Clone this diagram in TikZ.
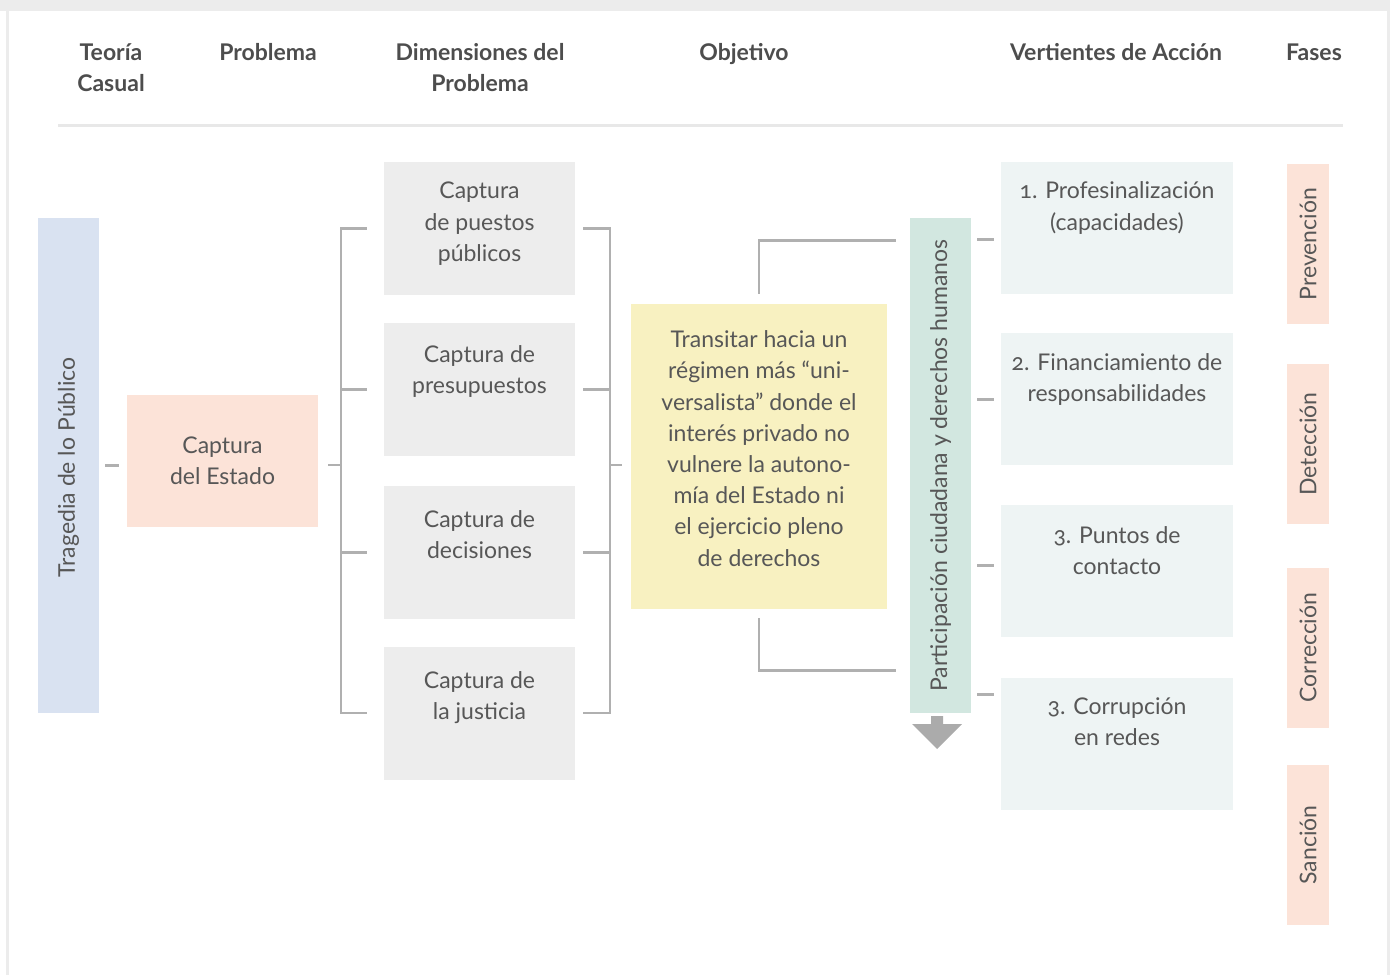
\documentclass[tikz,border=0pt]{standalone}
\usepackage{fontspec}
\setmainfont{Lato}[Numbers=OldStyle]
\usetikzlibrary{positioning}
\definecolor{txtgray}{HTML}{575757}
\definecolor{headgray}{HTML}{4D4D4D}
\definecolor{framegray}{HTML}{ECECEC}
\definecolor{rulegray}{HTML}{E8E8E8}
\definecolor{linkgray}{HTML}{B0B0B0}
\definecolor{arrowgray}{HTML}{ABABAB}
\definecolor{bluegray}{HTML}{D9E2F1}
\definecolor{peach}{HTML}{FCE3D8}
\definecolor{boxgray}{HTML}{EDEDED}
\definecolor{lightyellow}{HTML}{F8F1C1}
\definecolor{lightgreen}{HTML}{D2E7E0}
\definecolor{paleblue}{HTML}{EEF4F4}

\begin{document}
\begin{tikzpicture}[x=0.5pt,y=-0.5pt,
  every node/.style={text=txtgray,font=\fontsize{11.5}{15.6}\selectfont},
  head/.style={font=\fontsize{11.5}{15.6}\selectfont\bfseries,text=headgray,align=center,anchor=north,inner sep=0pt},
  box/.style={inner sep=0pt,minimum width=95.5pt,minimum height=66.5pt,fill=boxgray},
  bar/.style={box,minimum width=30.5pt,minimum height=247.5pt},
  vbox/.style={box,fill=paleblue,minimum width=116pt,minimum height=66pt},
  fase/.style={box,fill=peach,minimum width=21pt,minimum height=80pt},
  txt/.style={align=center,inner sep=0pt},
  link/.style={draw=linkgray,line width=1.2pt}]
\useasboundingbox (0,0) rectangle (1390,975);
\fill[framegray] (0,0) rectangle (1390,11); % frame
\fill[framegray] (6,11) rectangle (9,975);
\fill[framegray] (1387,11) rectangle (1390,975);

% headers
\node[head] (h1) at (111,38) {\strut Teoría\\Casual};
\node[head] (h2) at (268,38) {\strut Problema};
\node[head] (h3) at (480,38) {\strut Dimensiones del\\Problema};
\node[head] (h4) at (744,38) {\strut Objetivo};
\node[head] (h5) at (1116,38) {\strut Vertientes de Acción};
\node[head] (h6) at (1314,38) {\strut Fases};
\draw[rulegray,line width=1.5pt] (58,125) -- (1343,125);

\node[bar,fill=bluegray] (trag) at (68.5,465.5) {\rotatebox{90}{Tragedia de lo Público\,}};
\node[box,fill=peach,minimum height=66pt,txt] (estado) at (222.5,460.5) {Captura\\del Estado};

% dimensiones
\node[box] (d1) at (479.5,228.5) {};
\node[txt,yshift=2.4pt] at (d1) {Captura\\de puestos\\públicos};
\node[box] (d2) at (479.5,389.5) {};
\node[txt,yshift=9pt] at (d2) {Captura de\\presupuestos};
\node[box] (d3) at (479.5,552.5) {};
\node[txt,yshift=9pt] at (d3) {Captura de\\decisiones};
\node[box] (d4) at (479.5,713) {};
\node[txt,yshift=7.75pt] at (d4) {Captura de\\la justicia};

% objetivo
\node[box,fill=lightyellow,minimum width=128pt,minimum height=152.5pt] (obj) at (759,456.5) {};
\node[txt,yshift=4pt] at (obj) {Transitar hacia un\\régimen más “uni-\\versalista” donde el\\interés privado no\\vulnere la autono-\\mía del Estado ni\\el ejercicio pleno\\de derechos};

\node[bar,fill=lightgreen] (part) at (940.5,465.5) {\rotatebox{90}{Participación ciudadana y derechos humanos}};
\fill[arrowgray] (931,716) -- (943,716) -- (943,724) -- (962,724) -- (937,749) -- (912,724) -- (931,724) -- cycle;

% vertientes
\node[vbox] (v1) at (1117,228) {};
\node[txt,yshift=10pt] at (v1) {1. Profesinalización\\(capacidades)};
\node[vbox] (v2) at (1117,399) {};
\node[txt,yshift=9.75pt] at (v2) {2. Financiamiento de\\responsabilidades};
\node[vbox] (v3) at (1117,571) {};
\node[txt,yshift=10pt] at (v3) {3. Puntos de\\contacto};
\node[vbox] (v4) at (1117,744) {};
\node[txt,yshift=11pt] at (v4) {3. Corrupción\\en redes};

% fases
\node[fase] (f1) at (1308,244) {\rotatebox{90}{Prevención}};
\node[fase] (f2) at (1308,444) {\rotatebox{90}{Detección}};
\node[fase] (f3) at (1308,647.5) {\rotatebox{90}{Corrección}};
\node[fase] (f4) at (1308,845) {\rotatebox{90}{Sanción}};

% connectors
\coordinate (lj) at (341,465);
\coordinate (rj) at (610,465);
\draw[link] ([xshift=3pt]trag.east) -- ([xshift=-4pt]trag.east -| estado.west);
\draw[link] ([xshift=5pt]lj -| estado.east) -- (lj);
\draw[link] ([xshift=-8.5pt]d1.west) -| (lj) |- ([xshift=-8.5pt]d4.west);
\draw[link] ([xshift=-8.5pt]d2.west) -- (d2.west -| lj);
\draw[link] ([xshift=-8.5pt]d3.west) -- (d3.west -| lj);
\draw[link] ([xshift=4pt]d1.east) -| (rj) |- ([xshift=4pt]d4.east);
\draw[link] ([xshift=4pt]d2.east) -- (d2.east -| rj);
\draw[link] ([xshift=4pt]d3.east) -- (d3.east -| rj);
\draw[link] (rj) -- ([xshift=-4.5pt]rj -| obj.west);
\draw[link] ([yshift=5pt]obj.north) |- ([shift={(-7pt,-11.5pt)}]part.north west);
\draw[link] ([yshift=-4.5pt]obj.south) |- ([shift={(-7pt,21.5pt)}]part.south west);
\draw[link] ([shift={(3pt,-11pt)}]part.north east) -- ++(8.5pt,0);
\draw[link] ([shift={(3pt,-91pt)}]part.north east) -- ++(8.5pt,0);
\draw[link] ([shift={(3pt,-174pt)}]part.north east) -- ++(8.5pt,0);
\draw[link] ([shift={(3pt,-238.5pt)}]part.north east) -- ++(8.5pt,0);
\end{tikzpicture}
\end{document}
